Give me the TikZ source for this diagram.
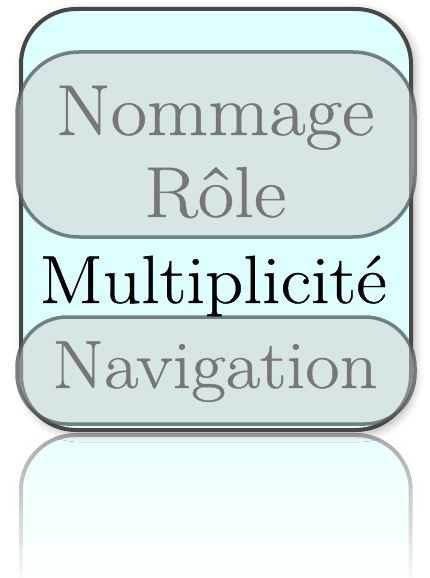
\documentclass[tikz,border=0pt]{standalone}
\usepackage{fontspec}
\newfontfamily\labelfont[FakeStretch=1.1, FakeBold=0.6]{Latin Modern Roman}
\usetikzlibrary{shadows.blur,fadings}
\definecolor{boxcyan}{HTML}{DEFFFF}
\definecolor{outerline}{HTML}{474747}
\definecolor{innerfill}{HTML}{CFCFCF}
\definecolor{innerline}{HTML}{4F5A5A}
\definecolor{greytext}{HTML}{777777}
\definecolor{reflline}{HTML}{A0A0A0}
\definecolor{reflfill}{HTML}{E6FFFF}
\tikzfading[name=reflfade, top color=transparent!10, bottom color=transparent!100]
\tikzset{
  outerbox/.style={draw=outerline, line width=4pt, fill=boxcyan, rounded corners=55pt,
    inner sep=0pt, outer sep=0pt,
    blur shadow={shadow xshift=3pt, shadow yshift=-3pt, shadow blur radius=9pt, shadow opacity=35}},
  innerbox/.style={draw=innerline, draw opacity=0.75, line width=3.5pt, fill=innerfill, fill opacity=0.5,
    inner sep=0pt, outer sep=0pt},
  bigtext/.style={anchor=base, inner sep=0pt, font=\labelfont\fontsize{72}{72}\selectfont},
  midtext/.style={anchor=base, inner sep=0pt, font=\labelfont\fontsize{68}{68}\selectfont},
}
\begin{document}
\begin{tikzpicture}[x=1pt,y=1pt]
\useasboundingbox (0,0) rectangle (430,-578);
% reflection
\draw[draw=reflline, line width=4pt, fill=reflfill, path fading=reflfade, rounded corners=55pt]
  (21,-585) -- (21,-435) -- (411,-435) -- (411,-585);
% main box
\node[outerbox, minimum width=390pt, minimum height=421pt] (outer) at (216,-219.5) {};
% inner boxes
\node[innerbox, rounded corners=62pt, minimum width=398pt, minimum height=185pt] (nombox) at (216,-144.5) {};
\node[innerbox, rounded corners=50pt, minimum width=398pt, minimum height=107pt] (navbox) at (216,-370.5) {};
% texts
\node[bigtext, text=greytext] (nommage) at (215,-135) {Nommage};
\node[bigtext, text=greytext] (role) at (215,-217) {Rôle};
\node[midtext, text=black] (multi) at (213,-303) {Multiplicité};
\node[midtext, text=greytext] (nav) at (215,-388) {Navigation};
\end{tikzpicture}
\end{document}
